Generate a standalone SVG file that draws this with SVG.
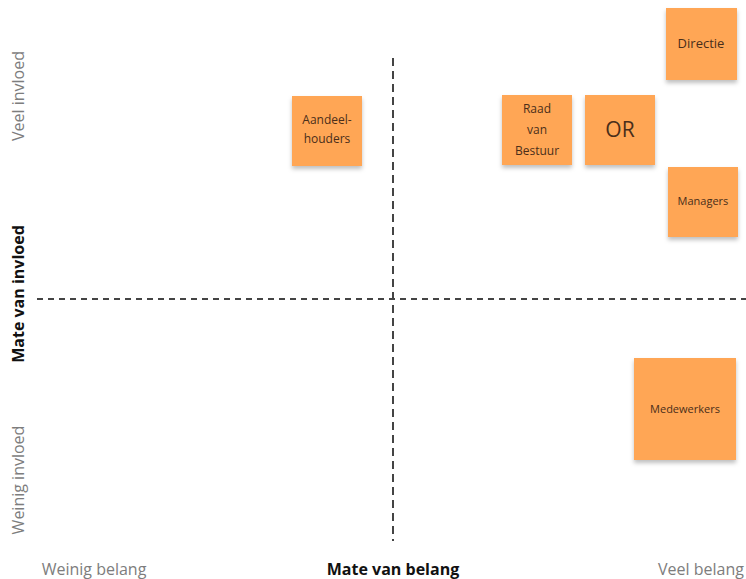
<svg xmlns="http://www.w3.org/2000/svg" width="746" height="579" viewBox="0 0 746 579">
<style>
.note{fill:#FFA654;filter:url(#sh)}
.nt{font-family:"Open Sans","Noto Sans",sans-serif;fill:#4a2e1a;text-anchor:middle}
.ax{font-family:"Open Sans","Noto Sans",sans-serif;font-size:16px;fill:#7d7d7d;text-anchor:middle}
.axb{font-family:"Open Sans","Noto Sans",sans-serif;font-size:16px;font-weight:bold;fill:#111;text-anchor:middle}
.dash{stroke:#444;stroke-width:2;fill:none}
</style>
<defs>
<filter id="sh" x="-20%" y="-20%" width="140%" height="150%">
<feDropShadow dx="0" dy="3" stdDeviation="2" flood-color="#000" flood-opacity="0.25"/>
</filter>
</defs>
<rect width="746" height="579" fill="#fff"/>
<g id="connectors">
<line class="dash" x1="393" y1="58" x2="393" y2="541" stroke-dasharray="8 5"/>
<line class="dash" x1="37" y1="299" x2="746" y2="299" stroke-dasharray="6 5"/>
</g>
<g id="axis-labels">
<text class="ax" font-size="18" transform="translate(24,96) rotate(-90)">Veel invloed</text>
<text class="axb" font-size="18" transform="translate(24,294) rotate(-90)">Mate van invloed</text>
<text class="ax" font-size="18" transform="translate(24,480) rotate(-90)">Weinig invloed</text>
<text class="ax" x="94" y="575">Weinig belang</text>
<text class="axb" x="393" y="575">Mate van belang</text>
<text class="ax" x="701" y="575">Veel belang</text>
</g>
<g id="aandeelhouders">
<rect class="note" x="292" y="96" width="70" height="70"/>
<text class="nt" font-size="12" x="327" y="124">Aandeel-</text>
<text class="nt" font-size="12" x="327" y="143">houders</text>
</g>
<g id="raad-van-bestuur">
<rect class="note" x="502" y="95" width="70" height="70"/>
<text class="nt" font-size="12" x="537" y="113">Raad</text>
<text class="nt" font-size="12" x="537" y="134">van</text>
<text class="nt" font-size="12" x="537" y="155">Bestuur</text>
</g>
<g id="or">
<rect class="note" x="585" y="95" width="70" height="70"/>
<text class="nt" font-size="21" x="620" y="137">OR</text>
</g>
<g id="directie">
<rect class="note" x="666" y="8" width="71" height="72"/>
<text class="nt" font-size="13" x="701" y="48">Directie</text>
</g>
<g id="managers">
<rect class="note" x="668" y="167" width="70" height="70"/>
<text class="nt" font-size="11" x="703" y="205">Managers</text>
</g>
<g id="medewerkers">
<rect class="note" x="634" y="358" width="102" height="102"/>
<text class="nt" font-size="11" x="685" y="413">Medewerkers</text>
</g>
</svg>
